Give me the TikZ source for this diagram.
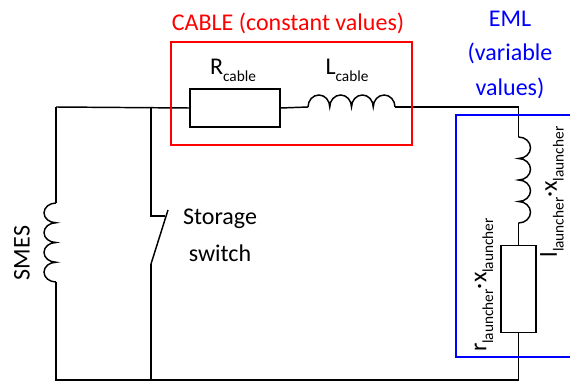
\documentclass[tikz,border=0pt]{standalone}
\usepackage{fontspec}
\setmainfont{Carlito}
\usepackage{tikz}

\newcommand\lsub[1]{\raisebox{-0.28em}{\fontsize{11.5}{12}\selectfont #1}}

\begin{document}
\begin{tikzpicture}[x=0.75pt,y=-0.75pt,
	wire/.style={line width=1.1pt},
	res/.style={draw,line width=1.1pt,rectangle,inner sep=0pt},
	lbl/.style={font=\fontsize{18}{21}\selectfont,inner sep=0pt},
	]
	\useasboundingbox (0,0) rectangle (570,381);
	% corners of the circuit
	\coordinate (tl) at (56,107);
	\coordinate (ts) at (151,107);
	\coordinate (tr) at (518.5,107);
	\coordinate (bl) at (56,380);
	\coordinate (bs) at (151,380);
	\coordinate (br) at (518.5,380);
	% coil ends
	\coordinate (lcabL) at (308,107);
	\coordinate (lcabR) at (395,107);
	\coordinate (llT) at (518.5,137);
	\coordinate (llB) at (518.5,223);
	\coordinate (smesT) at (56,203);
	\coordinate (smesB) at (56,282);
	% switch points
	\coordinate (swT) at (151,216);
	\coordinate (swK) at (165,216);
	\coordinate (swP) at (151,264);
	\coordinate (swE) at (168,210);
	% resistors
	\node[res,minimum width=67.5pt,minimum height=28.5pt] (rcab) at (235,108) {};
	\node[res,minimum width=26.25pt,minimum height=65.25pt] (rl) at (518.5,289) {};
	% wires
	\draw[wire] (tl) -- (rcab.west);
	\draw[wire] (rcab.east) -- (lcabL);
	\draw[wire] (lcabR) -- (tr) -- (llT);
	\draw[wire] (llB) -- (rl.north);
	\draw[wire] (rl.south) -- (br) -- (bl) -- (smesB);
	\draw[wire] (smesT) -- (tl);
	\draw[wire] (ts) -- (swT) -- (swK);
	\draw[wire] (swP) -- (swE);
	\draw[wire] (swP) -- (bs);
	% coils
	\draw[wire] (lcabL) \foreach \i in {1,...,4} {arc[start angle=180,end angle=360,x radius=10.875,y radius=12]};
	\draw[wire] (llT) \foreach \i in {1,...,4} {arc[start angle=-90,end angle=90,x radius=12,y radius=10.75]};
	\draw[wire] (smesT) \foreach \i in {1,...,4} {arc[start angle=270,end angle=90,x radius=12,y radius=9.875]};
	% boxes
	\draw[red,line width=1.5pt] (171,42) rectangle (412,145);
	\draw[blue,line width=1.5pt] (456,115) rectangle (580,357);
	% labels
	\node[lbl,red] (cable) at (288,23) {CABLE (constant values)};
	\node[lbl,blue] (eml1) at (510,19) {EML};
	\node[lbl,blue] (eml2) at (510,53) {(variable};
	\node[lbl,blue] (eml3) at (510,88) {values)};
	\node[lbl] (rcabl) at (233,70) {R\lsub{cable}};
	\node[lbl] (lcabl) at (347,70) {L\lsub{cable}};
	\node[lbl,rotate=90] (smesl) at (22,253) {SMES};
	\node[lbl] (stor) at (220,219) {Storage};
	\node[lbl] (swit) at (220,253) {switch};
	\node[lbl,rotate=90] (rll) at (484,285) {r\lsub{launcher}·x\lsub{launcher}};
	\node[lbl,rotate=90] (lll) at (552,192) {l\lsub{launcher}·x\lsub{launcher}};
\end{tikzpicture}
\end{document}
